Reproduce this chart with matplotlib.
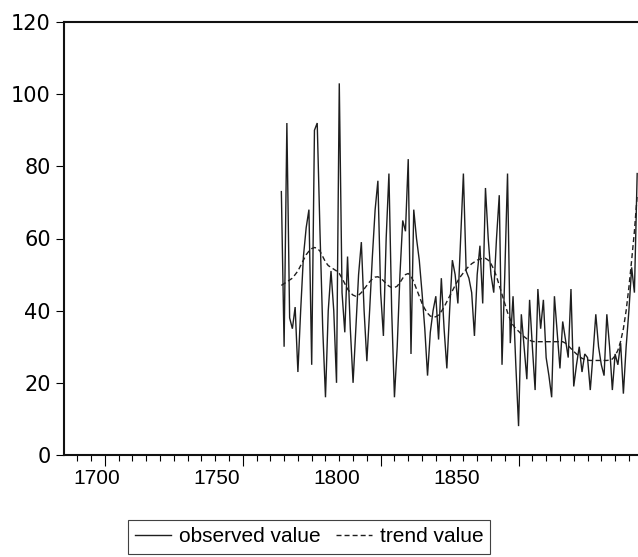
import matplotlib
matplotlib.use("Agg")
import matplotlib.pyplot as plt
from matplotlib.transforms import blended_transform_factory

plt.rcParams['font.family'] = ['Liberation Sans', 'DejaVu Sans']

years = list(range(1764, 1894))

observed = [
    73, 30, 92, 38, 35, 41, 23, 40, 55, 63,   # 1764-1773
    68, 25, 90, 92, 62, 35, 16, 40, 51, 40,   # 1774-1783
    20, 103, 45, 34, 55, 35, 20, 35, 50, 59,  # 1784-1793
    40, 26, 40, 55, 68, 76, 45, 33, 60, 78,   # 1794-1803
    40, 16, 30, 50, 65, 62, 82, 28, 68, 60,   # 1804-1813
    54, 45, 35, 22, 34, 40, 44, 32, 49, 35,   # 1814-1823
    24, 40, 54, 50, 42, 60, 78, 51, 49, 45,   # 1824-1833
    33, 50, 58, 42, 74, 60, 50, 45, 60, 72,   # 1834-1843
    25, 50, 78, 31, 44, 25, 8, 39, 30, 21,    # 1844-1853
    43, 30, 18, 46, 35, 43, 27, 22, 16, 44,   # 1854-1863
    34, 24, 37, 32, 27, 46, 19, 25, 30, 23,   # 1864-1873
    28, 27, 18, 28, 39, 30, 25, 22, 39, 30,   # 1874-1883
    18, 28, 25, 31, 17, 30, 40, 52, 45, 78,   # 1884-1893
]

trend = [
    47.0, 47.5, 48.0, 48.5, 49.0, 50.0, 51.0, 52.5, 54.0, 55.5,
    56.5, 57.2, 57.5, 57.3, 56.5, 55.0, 53.5, 52.5, 52.0, 51.5,
    51.0, 50.3, 49.0, 47.5, 46.0, 45.0, 44.3, 44.0, 44.3, 45.0,
    46.0, 47.0, 48.0, 48.8, 49.3, 49.4, 49.0, 48.3, 47.5, 46.8,
    46.4, 46.4, 46.8, 47.8, 49.0, 50.0, 50.3, 49.5, 48.0, 46.0,
    44.0, 42.0, 40.5, 39.3, 38.5, 38.3, 38.3, 38.8, 39.8, 41.0,
    42.5, 44.0, 45.5, 47.0, 48.3, 49.5, 50.5, 51.5, 52.3, 53.0,
    53.5, 54.0, 54.3, 54.5, 54.5, 54.0, 53.0, 51.5, 49.5, 47.0,
    44.5, 42.0, 39.5, 37.5, 36.0, 35.0, 34.3, 33.5, 32.8, 32.2,
    31.8, 31.5, 31.4, 31.4, 31.4, 31.4, 31.4, 31.4, 31.4, 31.4,
    31.4, 31.4, 31.4, 31.0, 30.3, 29.5, 28.7, 28.0, 27.3, 26.8,
    26.5, 26.3, 26.2, 26.2, 26.2, 26.2, 26.2, 26.2, 26.2, 26.3,
    26.6, 27.5, 29.0, 31.5, 35.0, 40.0, 46.5, 54.0, 62.0, 72.0,
]

xtick_labels = ['1700', '1750', '1800', '1850']
ytick_values = [0, 20, 40, 60, 80, 100, 120]

LINE = '#1e1e1e'
DASH = (0, (3.6, 2.2))

fig = plt.figure(figsize=(6.38, 5.57), dpi=100)
ax = fig.add_axes([64/638, 1 - 455/557, 1 - 64/638, (455 - 22)/557])

ax.plot(years, observed, color=LINE, lw=1.0, solid_joinstyle='miter')
ax.plot(years, trend, color=LINE, lw=1.0, linestyle=DASH)

ax.set_xlim(1685.2, 1893.3)
ax.set_ylim(0, 120)

for s in ['left', 'top', 'bottom']:
    ax.spines[s].set_linewidth(1.5)
    ax.spines[s].set_color('#111111')
ax.spines['right'].set_visible(False)

ax.set_yticks(ytick_values)
ax.set_yticklabels([str(v) for v in ytick_values], fontsize=15, family='DejaVu Sans')
ax.tick_params(axis='y', direction='out', length=6, width=0.8, pad=3.5)

ax.set_xticks([1700, 1750, 1800, 1850])
ax.set_xticklabels([])
ax.set_xticks(list(range(1690, 1894, 5)), minor=True)
ax.tick_params(axis='x', which='major', direction='out', length=8, width=0.8)
ax.tick_params(axis='x', which='minor', direction='out', length=4, width=0.8)

# x labels as printed in the reference (offset from the tick marks)
label_pos = [1697.2, 1740.4, 1784.2, 1827.6]
trans = blended_transform_factory(ax.transData, ax.transAxes)
for p, t in zip(label_pos, xtick_labels):
    ax.text(p, -23/433, t, transform=trans, ha='center', va='center', fontsize=15)

h1, = ax.plot([], [], color=LINE, lw=1.0)
h2, = ax.plot([], [], color=LINE, lw=1.0, linestyle=DASH)
leg = fig.legend([h1, h2], ['observed value', 'trend value'], loc='center',
                 bbox_to_anchor=(309/638, 1 - 537/557), ncol=2, fontsize=15,
                 frameon=True, fancybox=False, handlelength=1.75, handletextpad=0.35,
                 columnspacing=0.75, borderpad=0.35, borderaxespad=0)
leg.get_frame().set_edgecolor('#111111')
leg.get_frame().set_linewidth(0.8)

fig.savefig('out.png', dpi=100)
